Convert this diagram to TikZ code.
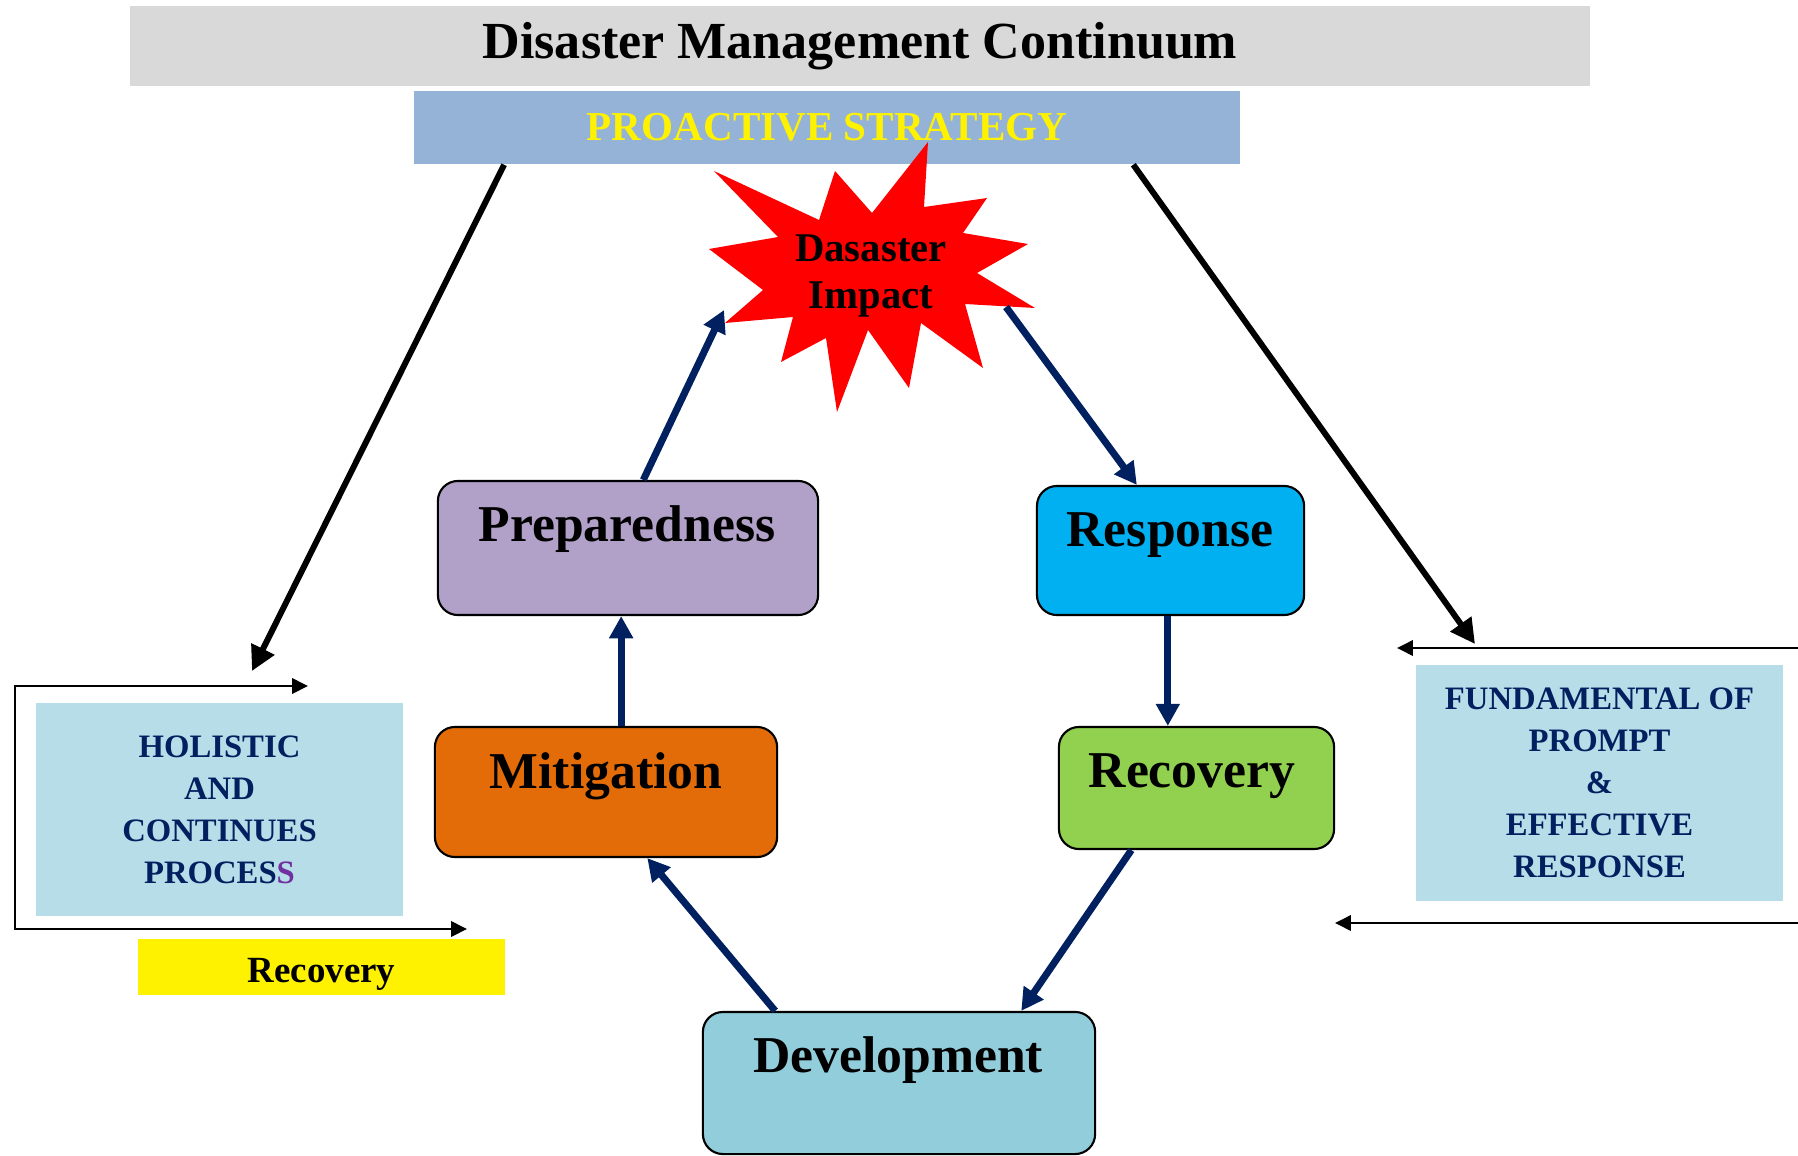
\documentclass[tikz,border=0pt]{standalone}
\usepackage{fontspec}
\setmainfont{Liberation Serif}
\usetikzlibrary{arrows.meta,calc,positioning}
\definecolor{navy}{HTML}{002060}
\definecolor{titlegray}{HTML}{D9D9D9}
\definecolor{barblue}{HTML}{95B3D7}
\definecolor{prepcol}{HTML}{B1A0C7}
\definecolor{respcol}{HTML}{00B0F0}
\definecolor{mitcol}{HTML}{E36C09}
\definecolor{reccol}{HTML}{92D050}
\definecolor{devcol}{HTML}{92CDDC}
\definecolor{sidecol}{HTML}{B7DDE8}
\definecolor{spurple}{HTML}{7030A0}
\begin{document}
\begin{tikzpicture}[x=0.01cm,y=-0.01cm,
    stage/.style={draw=black,line width=0.6pt,rounded corners=0.2cm,inner sep=0pt},
    stagetext/.style={anchor=base,font=\fontsize{14.7}{16}\selectfont\bfseries},
    sidebox/.style={fill=sidecol,inner sep=0pt,minimum width=3.67cm,align=center,
      text=navy,font=\fontsize{9.3}{11.95}\selectfont\bfseries},
    cyclearrow/.style={navy,line width=2pt,-{Triangle[width=6.5pt,length=6.3pt]}},
    strategyarrow/.style={black,line width=1.7pt,-{Triangle[width=7pt,length=7pt]}},
    bracketarrow/.style={black,line width=0.8pt,-{Triangle[width=4.3pt,length=4.5pt]}}]
  \useasboundingbox (0,0) rectangle (1798,1155);
  %\small
  \node[fill=titlegray,minimum width=14.6cm,minimum height=0.8cm,
    font=\fontsize{14.8}{18}\selectfont\bfseries] (title) at (860,46) {Disaster Management Continuum};
  \node[fill=barblue,minimum width=8.26cm,minimum height=0.73cm,text=yellow,
    font=\fontsize{11.7}{14}\selectfont\bfseries] (strategy) at (827,127.5) {PROACTIVE STRATEGY};

  \fill[red] (714,171) -- (819,220) -- (835,171) -- (872,213) -- (928,142) -- (924,207)
    -- (987,198) -- (963,233) -- (1028,244) -- (977,273) -- (1035,308) -- (965,304)
    -- (983,368) -- (921,323) -- (909,388) -- (868,330) -- (837,412) -- (826,338)
    -- (781,362) -- (793,317) -- (725,323) -- (763,290) -- (709,249) -- (778,237) -- cycle;
  \node[align=center,font=\fontsize{11.6}{13.6}\selectfont\bfseries] (impact) at (871,276) {Dasaster\\Impact};
  \coordinate (impactin) at (724,310);
  \coordinate (impactout) at (1006,307);

  \node[stage,fill=prepcol,minimum width=3.8cm,minimum height=1.34cm] (prep) at (628,548) {};
  \node[stagetext] (preptext) at (627,541) {Preparedness};
  \node[stage,fill=respcol,minimum width=2.67cm,minimum height=1.29cm] (resp) at (1170.5,550.5) {};
  \node[stagetext] (resptext) at (1170,546) {Response};
  \node[stage,fill=mitcol,minimum width=3.42cm,minimum height=1.3cm] (mit) at (606,792) {};
  \node[stagetext] (mittext) at (606,788) {Mitigation};
  \node[stage,fill=reccol,minimum width=2.75cm,minimum height=1.22cm] (rec) at (1196.5,788) {};
  \node[stagetext] (rectext) at (1192,787) {Recovery};
  \node[stage,fill=devcol,minimum width=3.92cm,minimum height=1.42cm] (dev) at (899,1083) {};
  \node[stagetext] (devtext) at (898,1072) {Development};

  \draw[cyclearrow] ($(prep.north west)!.54!(prep.north east)$) -- (impactin);
  \draw[cyclearrow] (impactout) -- ($(resp.north west)!.375!(resp.north east)$);
  \draw[cyclearrow] ($(resp.south west)!.49!(resp.south east)$) coordinate (respout) -- (respout |- rec.north);
  \draw[cyclearrow] ($(rec.south west)!.265!(rec.south east)$) -- ($(dev.north west)!.81!(dev.north east)$);
  \draw[cyclearrow] ($(dev.north west)!.186!(dev.north east)$) -- ($(mit.south west)!.62!(mit.south east)$);
  \draw[cyclearrow] ($(mit.north west)!.544!(mit.north east)$) coordinate (mitout) -- (mitout |- prep.south);

  \node[sidebox,minimum height=2.13cm] (holistic) at (219.5,809.5)
    {HOLISTIC\\AND\\CONTINUES\\PROCES{\color{spurple}S}};
  \node[fill=yellow,inner sep=0pt,minimum width=3.67cm,minimum height=0.56cm,text height=0.35cm,text depth=0.05cm,
    font=\fontsize{10.5}{12}\selectfont\bfseries] (recnote) at (321.5,967) {Recovery};
  \node[sidebox,minimum height=2.36cm] (fund) at (1599.5,783)
    {FUNDAMENTAL OF\\PROMPT\\\&\\EFFECTIVE\\RESPONSE};

  \coordinate (holtip) at (252,671);
  \coordinate (fundtip) at (1475,644);
  \draw[strategyarrow] ($(strategy.south west)!.11!(strategy.south east)$) -- (holtip);
  \draw[strategyarrow] ($(strategy.south west)!.87!(strategy.south east)$) -- (fundtip);

  \coordinate (brtop) at (308,686);
  \coordinate (brcorner) at (15,686);
  \coordinate (brbot) at (467,929);
  \draw[bracketarrow,{Triangle[width=4.3pt,length=4.5pt]}-{Triangle[width=4.3pt,length=4.5pt]}]
    (brtop) -- (brcorner) |- (brbot);
  \coordinate (edgetop) at (1798,648);
  \coordinate (fundtop) at (1397,648);
  \coordinate (edgebot) at (1798,923);
  \coordinate (fundbot) at (1335,923);
  \draw[bracketarrow] (edgetop) -- (fundtop);
  \draw[bracketarrow] (edgebot) -- (fundbot);
\end{tikzpicture}
\end{document}
